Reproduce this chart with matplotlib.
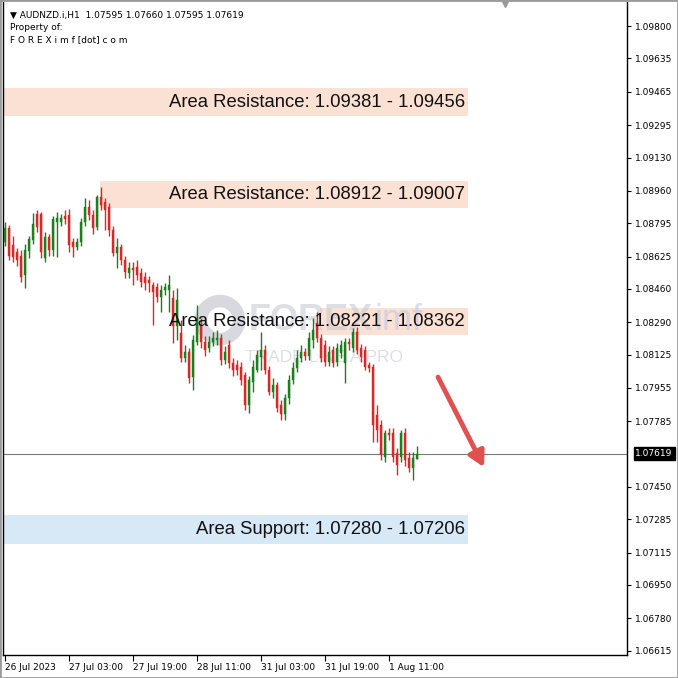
import matplotlib.pyplot as plt
from matplotlib.patches import Rectangle, Ellipse

# AUDNZD H1 candles, 26 Jul 2023 11:00 -> 1 Aug 2023
opens = [1.08699, 1.08770, 1.08684, 1.08648, 1.08627, 1.08531, 1.08653, 1.08709, 1.08842, 1.08842,
         1.08617, 1.08724, 1.08658, 1.08801, 1.08801, 1.08831, 1.08837, 1.08699, 1.08673, 1.08699,
         1.08801, 1.08877, 1.08837, 1.08775, 1.08928, 1.08903, 1.08877, 1.08760, 1.08643, 1.08673,
         1.08607, 1.08541, 1.08566, 1.08571, 1.08541, 1.08520, 1.08505, 1.08480, 1.08469, 1.08418,
         1.08454, 1.08454, 1.08413, 1.08270, 1.08235, 1.08107, 1.08138, 1.08010, 1.08189, 1.08276,
         1.08189, 1.08158, 1.08189, 1.08199, 1.08209, 1.08097, 1.08174, 1.08082, 1.08072, 1.08061,
         1.08021, 1.07868, 1.07985, 1.08046, 1.08112, 1.08148, 1.08046, 1.07934, 1.07970, 1.07868,
         1.07822, 1.07903, 1.07995, 1.08056, 1.08107, 1.08138, 1.08117, 1.08199, 1.08286, 1.08209,
         1.08174, 1.08087, 1.08148, 1.08087, 1.08133, 1.08082, 1.08189, 1.08158, 1.08240, 1.08158,
         1.08148, 1.08072, 1.08061, 1.07817, 1.07766, 1.07602, 1.07725, 1.07725, 1.07623, 1.07602,
         1.07725, 1.07597, 1.07546, 1.07595]
highs = [1.08801, 1.08786, 1.08729, 1.08668, 1.08658, 1.08689, 1.08729, 1.08847, 1.08862, 1.08852,
         1.08750, 1.08740, 1.08831, 1.08852, 1.08842, 1.08862, 1.08867, 1.08719, 1.08719, 1.08821,
         1.08923, 1.08913, 1.08862, 1.08939, 1.08979, 1.08923, 1.08898, 1.08780, 1.08719, 1.08689,
         1.08627, 1.08597, 1.08597, 1.08607, 1.08566, 1.08546, 1.08525, 1.08495, 1.08490, 1.08480,
         1.08490, 1.08531, 1.08454, 1.08464, 1.08301, 1.08174, 1.08158, 1.08225, 1.08378, 1.08311,
         1.08219, 1.08219, 1.08240, 1.08250, 1.08230, 1.08168, 1.08199, 1.08107, 1.08097, 1.08087,
         1.08036, 1.08015, 1.08097, 1.08148, 1.08240, 1.08174, 1.08066, 1.08005, 1.07985, 1.07893,
         1.07924, 1.08021, 1.08087, 1.08148, 1.08174, 1.08158, 1.08240, 1.08311, 1.08342, 1.08230,
         1.08199, 1.08168, 1.08168, 1.08184, 1.08199, 1.08209, 1.08209, 1.08260, 1.08265, 1.08179,
         1.08168, 1.08087, 1.08077, 1.07868, 1.07791, 1.07740, 1.07750, 1.07750, 1.07648, 1.07740,
         1.07750, 1.07628, 1.07628, 1.07660]
lows = [1.08678, 1.08607, 1.08597, 1.08576, 1.08495, 1.08464, 1.08617, 1.08689, 1.08750, 1.08617,
        1.08597, 1.08627, 1.08627, 1.08622, 1.08780, 1.08791, 1.08648, 1.08622, 1.08658, 1.08678,
        1.08780, 1.08811, 1.08740, 1.08760, 1.08862, 1.08760, 1.08729, 1.08627, 1.08566, 1.08582,
        1.08515, 1.08515, 1.08480, 1.08505, 1.08469, 1.08454, 1.08444, 1.08276, 1.08393, 1.08342,
        1.08429, 1.08342, 1.08184, 1.08199, 1.08087, 1.08087, 1.07980, 1.07944, 1.08174, 1.08158,
        1.08117, 1.08138, 1.08168, 1.08174, 1.08072, 1.08077, 1.08056, 1.08015, 1.08021, 1.07970,
        1.07842, 1.07827, 1.07934, 1.08036, 1.08046, 1.08026, 1.07919, 1.07903, 1.07832, 1.07791,
        1.07791, 1.07873, 1.07975, 1.08036, 1.08087, 1.08097, 1.08097, 1.08158, 1.08189, 1.08087,
        1.08066, 1.08066, 1.08061, 1.08066, 1.08107, 1.07980, 1.08148, 1.08138, 1.08128, 1.08087,
        1.08046, 1.08036, 1.07679, 1.07679, 1.07587, 1.07577, 1.07689, 1.07577, 1.07511, 1.07577,
        1.07556, 1.07526, 1.07485, 1.07595]
closes = [1.08770, 1.08627, 1.08622, 1.08607, 1.08520, 1.08658, 1.08714, 1.08791, 1.08775, 1.08648,
          1.08724, 1.08658, 1.08816, 1.08821, 1.08821, 1.08816, 1.08684, 1.08673, 1.08699, 1.08801,
          1.08877, 1.08837, 1.08770, 1.08928, 1.08888, 1.08862, 1.08760, 1.08643, 1.08673, 1.08607,
          1.08546, 1.08566, 1.08556, 1.08531, 1.08495, 1.08490, 1.08490, 1.08444, 1.08418, 1.08454,
          1.08469, 1.08480, 1.08270, 1.08403, 1.08107, 1.08138, 1.08005, 1.08199, 1.08311, 1.08189,
          1.08148, 1.08189, 1.08209, 1.08209, 1.08097, 1.08138, 1.08082, 1.08046, 1.08046, 1.07995,
          1.07868, 1.07995, 1.08061, 1.08123, 1.08148, 1.08046, 1.07934, 1.07970, 1.07852, 1.07822,
          1.07903, 1.07995, 1.08056, 1.08107, 1.08138, 1.08117, 1.08209, 1.08250, 1.08209, 1.08107,
          1.08087, 1.08138, 1.08082, 1.08158, 1.08174, 1.08189, 1.08179, 1.08240, 1.08148, 1.08112,
          1.08061, 1.08056, 1.07766, 1.07740, 1.07613, 1.07725, 1.07715, 1.07602, 1.07562, 1.07725,
          1.07587, 1.07546, 1.07597, 1.07619]

# time axis labels (bar index -> label)
date_ticks = [0, 16, 32, 48, 64, 80, 96]
date_labels = ['26 Jul 2023', '27 Jul 03:00', '27 Jul 19:00', '28 Jul 11:00',
               '31 Jul 03:00', '31 Jul 19:00', '1 Aug 11:00']

price_labels = ['1.09800', '1.09635', '1.09465', '1.09295', '1.09130', '1.08960', '1.08795',
                '1.08625', '1.08460', '1.08290', '1.08125', '1.07955', '1.07785', '1.07450',
                '1.07285', '1.07115', '1.06950', '1.06780', '1.06615']
last_price = 1.07619

# zones
zone_labels = ['Area Resistance: 1.09381 - 1.09456', 'Area Resistance: 1.08912 - 1.09007',
               'Area Resistance: 1.08221 - 1.08362', 'Area Support: 1.07280 - 1.07206']
zone_bottoms = [1.09341, 1.08872, 1.08225, 1.07159]
zone_tops = [1.09484, 1.09010, 1.08362, 1.07307]
zone_starts = [-0.5, 23.75, 78.75, -0.5]
zone_kinds = ['res', 'res', 'res', 'sup']
zone_end = 115.75

# forecast arrow (bar index, price)
arrow_tail = (108.25, 1.08010)
arrow_head = (119.75, 1.07551)

# watermark anchor (bar index, price)
logo_ring = (53.75, 1.08301)
logo_text = (61.0, 1.08301)
logo_tag = (60.0, 1.08112)

UP = '#1e7d1e'
DOWN = '#d42a2a'
WM = '#c4c6ce'

fig = plt.figure(figsize=(6.78, 6.78), dpi=100)
ax = fig.add_axes([3 / 678, 23 / 678, 624 / 678, 653 / 678])
ax.set_xlim(-0.5, 155.5)
ax.set_ylim(1.06593, 1.09923)

# zones first, candles on top
for lab, b, t, s, k in zip(zone_labels, zone_bottoms, zone_tops, zone_starts, zone_kinds):
    fc = '#fbe1d4' if k == 'res' else '#d7e8f7'
    ax.add_patch(Rectangle((s, b), zone_end - s, t - b, facecolor=fc, edgecolor='none', zorder=1))

# watermark logo (ring sized in bars / price so it stays round: 4 px per bar, ~19600 px per unit)
ax.add_patch(Ellipse(logo_ring, 9.5, 0.00194, facecolor='none', edgecolor=WM, lw=9,
                     alpha=0.65, zorder=2))
wm = ax.text(logo_text[0], logo_text[1], 'FOREX', fontsize=26, fontweight='bold', color=WM,
             alpha=0.55, va='center', ha='left', family='Liberation Sans', zorder=2)
ax.annotate('imf', xy=(1, 0.5), xycoords=wm, xytext=(1, 0), textcoords='offset points',
            fontsize=26, color='#b7c6e6', alpha=0.55, va='center', ha='left',
            family='Liberation Sans', zorder=2)
ax.text(logo_tag[0], logo_tag[1], 'TRADE LIKE A PRO', fontsize=12.5, color=WM, alpha=0.55,
        va='center', ha='left', family='Liberation Sans', zorder=2)

# candles
for i, (o, h, l, c) in enumerate(zip(opens, highs, lows, closes)):
    col = UP if c >= o else DOWN
    ax.vlines(i, l, h, color=col, lw=1, zorder=3)
    body = max(abs(c - o), 0.00004)
    ax.bar(i, body, bottom=min(o, c), width=0.72, color=col, edgecolor=col, lw=0.3, zorder=4)

# current price line
ax.axhline(last_price, color='#6f806f', lw=0.8, zorder=2)

# zone labels
for lab, b, t in zip(zone_labels, zone_bottoms, zone_tops):
    ax.text(zone_end - 0.8, (b + t) / 2, lab, ha='right', va='center', fontsize=13.3,
            family='Liberation Sans', color='#111111', zorder=6)

ax.annotate('', xy=arrow_head, xytext=arrow_tail,
            arrowprops=dict(arrowstyle='-|>,head_length=0.9,head_width=0.5', color='#e05050',
                            lw=3.5, shrinkA=0, shrinkB=0), zorder=7)

# axes styling
ax.spines['top'].set_visible(False)
for side in ['left', 'right', 'bottom']:
    ax.spines[side].set_color('black')
    ax.spines[side].set_linewidth(1)

ax.yaxis.tick_right()
ax.set_yticks([float(p) for p in price_labels])
ax.set_yticklabels(price_labels)
ax.tick_params(axis='y', direction='out', length=3, width=0.8, labelsize=6.5, pad=3)

ax.set_xticks(date_ticks)
ax.set_xticklabels(date_labels, ha='left')
ax.tick_params(axis='x', direction='out', length=4, width=0.8, labelsize=6.5, pad=2)

ax.annotate(f'{last_price:.5f}', xy=(1, last_price), xycoords=('axes fraction', 'data'),
            xytext=(6, 0), textcoords='offset points', va='center', ha='left', fontsize=6.5,
            color='white', bbox=dict(boxstyle='square,pad=0.2', fc='black', ec='black'), zorder=8)

# header text
ax.text(0.012, 0.987, '\u25bc AUDNZD.i,H1  1.07595 1.07660 1.07595 1.07619', transform=ax.transAxes,
        fontsize=6.5, va='top', ha='left', zorder=8)
ax.text(0.012, 0.968, 'Property of:', transform=ax.transAxes, fontsize=6.5, va='top', ha='left', zorder=8)
ax.text(0.012, 0.949, 'F O R E X i m f [dot] c o m', transform=ax.transAxes, fontsize=6.5,
        va='top', ha='left', zorder=8)

# chart shift marker
ax.plot([0.805], [1.0], marker='v', color='#9a9a9a', markersize=7, transform=ax.transAxes,
        clip_on=False, zorder=8)

fig.patches.append(Rectangle((0, 0), 1, 1, transform=fig.transFigure, fill=False,
                             edgecolor='#9a9a9a', lw=2))

fig.savefig('out.png', dpi=100)
